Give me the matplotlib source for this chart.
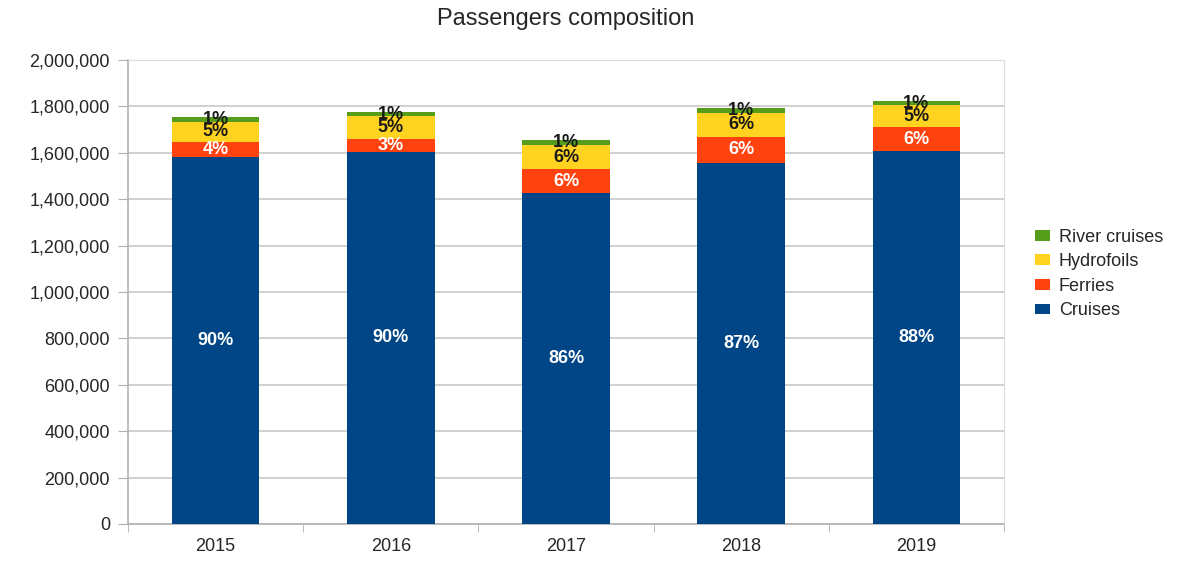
import matplotlib

matplotlib.use("Agg")
import matplotlib.pyplot as plt
import numpy as np
from matplotlib.ticker import FuncFormatter

plt.rcParams["font.family"] = ["Liberation Sans", "DejaVu Sans"]

YEARS = ["2015", "2016", "2017", "2018", "2019"]
CRUISES = [1582000, 1604000, 1425000, 1557000, 1609000]
FERRIES = [66000, 57000, 104000, 111000, 101000]
HYDROFOILS = [86000, 96000, 104000, 105000, 96000]
RIVER_CRUISES = [20000, 19000, 22000, 19000, 17000]

SERIES = [
    ("Cruises", CRUISES, "#004586", "white"),
    ("Ferries", FERRIES, "#ff420e", "white"),
    ("Hydrofoils", HYDROFOILS, "#ffd320", "#1a1a1a"),
    ("River cruises", RIVER_CRUISES, "#579d1c", "#1a1a1a"),
]

INK = "#262626"
GRID = "#c8c8c8"


def main():
    x = np.arange(len(YEARS))
    totals = np.sum([s[1] for s in SERIES], axis=0)

    fig = plt.figure(figsize=(11.77, 5.63), dpi=100)
    ax = fig.add_axes([0.1088, 0.0693, 0.7442, 0.8241])

    bottom = np.zeros(len(YEARS))
    handles = []
    for name, vals, color, txt in SERIES:
        vals = np.array(vals, dtype=float)
        bars = ax.bar(x, vals, 0.5, bottom=bottom, color=color, label=name,
                      zorder=3)
        handles.append(bars)
        # share of the year's total, centred in each segment
        for xi, b, v, t in zip(x, bottom, vals, totals):
            ax.text(xi, b + v / 2, f"{round(100 * v / t):.0f}%",
                    ha="center", va="center", fontsize=13, fontweight="bold",
                    color=txt, zorder=4)
        bottom += vals

    ax.set_xlim(-0.5, len(YEARS) - 0.5)
    ax.set_ylim(0, 2000000)
    ax.set_yticks(np.arange(0, 2000001, 200000))
    ax.yaxis.set_major_formatter(FuncFormatter(lambda v, p: f"{int(v):,}"))
    ax.set_xticks(x)
    ax.set_xticklabels(YEARS)
    ax.set_xticks(np.arange(-0.5, len(YEARS), 1.0), minor=True)
    ax.tick_params(axis="x", which="major", length=0, pad=10, labelsize=13,
                   labelcolor=INK)
    ax.tick_params(axis="x", which="minor", length=6, color="#b0b0b0")
    ax.tick_params(axis="y", length=7, color="#b0b0b0", labelsize=13,
                   labelcolor=INK, pad=6)

    ax.yaxis.grid(True, color=GRID, linewidth=1.2, zorder=0)
    ax.set_axisbelow(True)
    for s in ("top", "right"):
        ax.spines[s].set_color("#dddddd")
    for s in ("left", "bottom"):
        ax.spines[s].set_color("#b0b0b0")
        ax.spines[s].set_linewidth(1.2)

    fig.text(0.481, 0.967, "Passengers composition", ha="center", va="center",
             fontsize=17, color=INK)

    fig.legend(handles[::-1], [s[0] for s in SERIES][::-1],
               loc="upper left", bbox_to_anchor=(0.872, 0.61),
               frameon=False, fontsize=13, handlelength=0.8,
               handleheight=0.55, handletextpad=0.5, labelspacing=0.42,
               labelcolor=INK, borderpad=0)

    fig.savefig("out.png", dpi=100, facecolor="white")


if __name__ == "__main__":
    main()
